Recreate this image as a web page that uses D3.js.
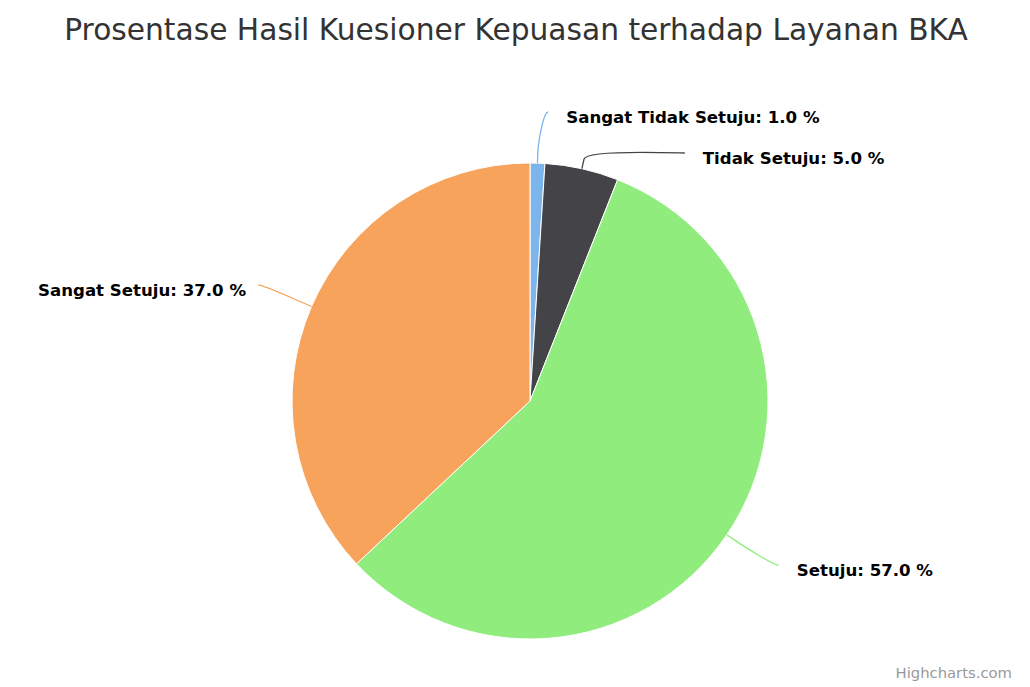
<!DOCTYPE html>
<html>
<head>
<meta charset="utf-8">
<script src="https://cdn.jsdelivr.net/npm/d3@7/dist/d3.min.js"></script>
<style>
  html, body { margin: 0; padding: 0; background: #ffffff; }
  svg { display: block; }
</style>
</head>
<body>
<svg id="chart" width="1030" height="687"></svg>
<script>
// ---- Data ----
const titleText = "Prosentase Hasil Kuesioner Kepuasan terhadap Layanan BKA";
const categories = ["Sangat Tidak Setuju", "Tidak Setuju", "Setuju", "Sangat Setuju"];
const values = [1.0, 5.0, 57.0, 37.0];
const colors = ["#7cb5ec", "#434348", "#90ed7d", "#f7a35c"];
const creditText = "Highcharts.com";

// ---- Layout ----
const W = 1030, H = 687;
const cx = 530, cy = 401, r = 238;
const labelR = 292.3;     // radius of label ring
const breakOffset = 10;   // connector crook distance beyond the pie edge
const labelBoxH = 41;
const plotTop = 91.5, plotBottom = 660;

const svg = d3.select("#chart");

svg.append("text")
  .attr("x", 516).attr("y", 40)
  .attr("text-anchor", "middle")
  .style("font-family", "'DejaVu Sans', sans-serif")
  .style("font-size", "29.7px")
  .style("fill", "#333333")
  .text(titleText);

const data = categories.map((c, i) => ({ name: c, value: values[i], color: colors[i], i }));

const pie = d3.pie().value(d => d.value).sort(null);
const arcs = pie(data);
const arc = d3.arc().innerRadius(0).outerRadius(r);

const g = svg.append("g").attr("transform", `translate(${cx},${cy})`);
g.selectAll("path.slice").data(arcs).enter().append("path")
  .attr("class", "slice")
  .attr("d", arc)
  .attr("fill", d => d.data.color)
  .attr("stroke", "#ffffff")
  .attr("stroke-width", 1)
  .attr("stroke-linejoin", "round");

// ---- Label positions (Highcharts-like) ----
const pt = (ang, rad) => [cx + rad * Math.sin(ang), cy - rad * Math.cos(ang)];
const labels = arcs.map(a => {
  const mid = (a.startAngle + a.endAngle) / 2;
  const right = mid < Math.PI;
  return {
    d: a.data, mid, right,
    touch: pt(mid, r),
    brk: pt(mid, r + breakOffset),
    y: pt(mid, labelR)[1]
  };
});

[true, false].forEach(side => {
  const list = labels.filter(l => l.right === side).sort((a, b) => a.y - b.y);
  let prev = plotTop + labelBoxH / 2 - labelBoxH;
  list.forEach(l => {
    l.y = Math.max(l.y, prev + labelBoxH);
    prev = l.y;
  });
  let next = plotBottom - labelBoxH / 2 + labelBoxH;
  for (let k = list.length - 1; k >= 0; k--) {
    list[k].y = Math.min(list[k].y, next - labelBoxH);
    next = list[k].y;
  }
});

labels.forEach(l => {
  const dy = l.y - cy - 3;
  const dx = Math.sqrt(Math.max(0, labelR * labelR - dy * dy)) + 5;
  l.x = cx + (l.right ? dx : -dx);
});

const connG = svg.append("g");
labels.forEach(l => {
  const c1x = l.x + (l.right ? -5 : 5);
  const c2x = 2 * l.brk[0] - l.touch[0];
  const c2y = 2 * l.brk[1] - l.touch[1];
  const p = d3.path();
  p.moveTo(l.x, l.y);
  p.bezierCurveTo(c1x, l.y, c2x, c2y, l.brk[0], l.brk[1]);
  p.lineTo(l.touch[0], l.touch[1]);
  connG.append("path")
    .attr("d", p.toString())
    .attr("fill", "none")
    .attr("stroke", l.d.color)
    .attr("stroke-width", 1.3);
});

const fmt = d3.format(".1f");
svg.append("g").selectAll("text").data(labels).enter().append("text")
  .attr("x", l => l.right ? l.x + 18 : l.x - 12)
  .attr("y", l => l.y + 11)
  .attr("text-anchor", l => l.right ? "start" : "end")
  .style("font-family", "'DejaVu Sans', sans-serif")
  .style("font-size", "16.6px")
  .style("font-weight", "bold")
  .style("fill", "#000000")
  .text(l => `${l.d.name}: ${fmt(l.d.value)} %`);

svg.append("text")
  .attr("x", 1012).attr("y", 678)
  .attr("text-anchor", "end")
  .style("font-family", "'DejaVu Sans', sans-serif")
  .style("font-size", "14.8px")
  .style("fill", "#999999")
  .text(creditText);
</script>
</body>
</html>
